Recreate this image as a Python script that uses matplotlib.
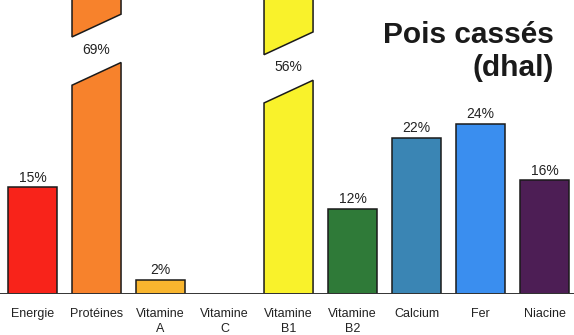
import matplotlib.pyplot as plt
from matplotlib.patches import Polygon

plt.rcParams["font.family"] = ["Liberation Sans", "DejaVu Sans"]

nutrients = ["Energie", "Protéines", "Vitamine\nA", "Vitamine\nC", "Vitamine\nB1",
             "Vitamine\nB2", "Calcium", "Fer", "Niacine"]
percent = [15, 69, 2, 0, 56, 12, 22, 24, 16]
colors = ["#f8231a", "#f7822c", "#f8b52e", "#ffffff", "#f9f22b",
          "#2f7a38", "#3a85b4", "#3a8eef", "#4d1e55"]
# bars too tall for the scale are cut with a slanted gap starting at this level
break_at = {1: 29.4, 4: 26.9}
slant = 3.2
gap = 6.8

width = 0.766
ymax = 41.4

fig = plt.figure(figsize=(5.74, 3.35), dpi=100)
ax = fig.add_axes([0, 41 / 335, 1, 294 / 335])
ax.set_xlim(-0.508, 8.46)
ax.set_ylim(0, ymax)

for i, (v, c) in enumerate(zip(percent, colors)):
    if v <= 0:
        continue
    x0, x1 = i - width / 2, i + width / 2
    if i in break_at:
        lo = break_at[i]
        ax.add_patch(Polygon([(x0, 0), (x1, 0), (x1, lo + slant), (x0, lo)],
                             closed=True, facecolor=c, edgecolor="#1a1a1a", lw=1.1))
        ax.add_patch(Polygon([(x0, lo + gap), (x1, lo + slant + gap), (x1, v), (x0, v)],
                             closed=True, facecolor=c, edgecolor="#1a1a1a", lw=1.1))
        ax.text(i, lo + slant / 2 + gap / 2, f"{v}%", ha="center", va="center",
                fontsize=10, color="#222222")
    else:
        ax.bar(i, v, width=width, color=c, edgecolor="#1a1a1a", lw=1.1)
        ax.annotate(f"{v}%", (i, v), xytext=(0, 2), textcoords="offset points",
                    ha="center", va="bottom", fontsize=10, color="#222222")

ax.axhline(0, color="#333333", lw=1.4)
for s in ["top", "right", "left", "bottom"]:
    ax.spines[s].set_visible(False)
ax.set_yticks([])
ax.set_xticks(range(len(nutrients)))
ax.set_xticklabels(nutrients, fontsize=9, color="#222222", linespacing=1.4)
ax.tick_params(axis="x", length=0, pad=10)

fig.text(554 / 574, 1 - 43 / 335, "Pois cassés", ha="right", va="baseline",
         fontsize=21.5, fontweight="bold", color="#1a1a1a")
fig.text(554 / 574, 1 - 76 / 335, "(dhal)", ha="right", va="baseline",
         fontsize=21.5, fontweight="bold", color="#1a1a1a")

fig.savefig("out.png", dpi=100)
